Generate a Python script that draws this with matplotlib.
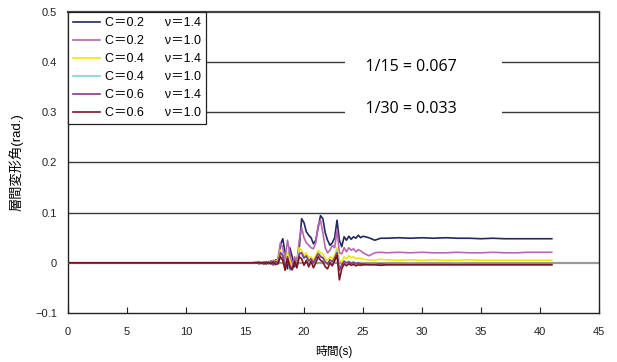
import matplotlib
matplotlib.use("Agg")
import matplotlib.pyplot as plt

plt.rcParams["font.family"] = ["Liberation Sans", "Noto Sans CJK JP", "DejaVu Sans"]

# time axis (s)
time_s = [0, 15.6,
          16.0, 16.2, 16.4, 16.6, 16.8, 17.0, 17.2, 17.4, 17.6, 17.8,
          18.0, 18.2, 18.4, 18.6, 18.8, 19.0, 19.2, 19.4, 19.6, 19.8,
          20.0, 20.2, 20.4, 20.6, 20.8, 21.0, 21.2, 21.4, 21.6, 21.8,
          22.0, 22.2, 22.4, 22.6, 22.8, 23.0, 23.2, 23.4, 23.6, 23.8,
          24.0, 24.2, 24.4, 24.6, 24.8, 25.0,
          25.5, 26.0, 26.5, 27, 28, 29, 30, 31, 32, 33, 34, 35, 36, 37, 38, 39, 40, 41]

# story drift angle (rad.)
c02_n14 = [0, 0,
           0.001, -0.002, 0.001, -0.003, 0.002, -0.002, 0.004, -0.004, 0.006, 0.002,
           0.035, 0.048, 0.020, -0.012, 0.030, 0.012, -0.008, 0.005, 0.030, 0.088,
           0.080, 0.062, 0.055, 0.050, 0.038, 0.045, 0.070, 0.094, 0.088, 0.060,
           0.045, 0.035, 0.040, 0.050, 0.085, 0.045, 0.032, 0.052, 0.045, 0.053,
           0.047, 0.052, 0.049, 0.055, 0.050, 0.053,
           0.050, 0.045, 0.049, 0.049, 0.050, 0.049, 0.050, 0.049, 0.050, 0.049, 0.049, 0.048, 0.049, 0.048, 0.048, 0.048, 0.048, 0.048]
c02_n10 = [0, 0,
           0.000, 0.002, -0.002, 0.002, -0.003, 0.003, -0.003, 0.005, -0.004, 0.010,
           0.040, 0.030, 0.005, 0.045, 0.020, -0.008, 0.012, 0.000, 0.045, 0.070,
           0.050, 0.040, 0.035, 0.030, 0.028, 0.040, 0.075, 0.085, 0.060, 0.030,
           0.020, 0.025, 0.035, 0.030, 0.065, 0.020, 0.018, 0.030, 0.022, 0.030,
           0.025, 0.028, 0.022, 0.026, 0.024, 0.020,
           0.014, 0.020, 0.021, 0.020, 0.021, 0.020, 0.021, 0.020, 0.020, 0.021, 0.020, 0.020, 0.021, 0.020, 0.020, 0.021, 0.021, 0.021]
c04_n14 = [0, 0,
           0.000, -0.001, 0.002, -0.002, 0.001, -0.002, 0.003, -0.003, 0.004, 0.003,
           0.025, 0.010, -0.008, 0.020, 0.005, -0.010, 0.003, -0.005, 0.030, 0.025,
           0.015, 0.020, 0.010, 0.012, 0.005, 0.015, 0.025, 0.020, 0.018, 0.008,
           0.005, 0.012, 0.008, 0.015, 0.030, 0.005, 0.002, 0.012, 0.008, 0.014,
           0.010, 0.012, 0.008, 0.010, 0.009, 0.007,
           0.006, 0.005, 0.007, 0.006, 0.005, 0.006, 0.005, 0.006, 0.005, 0.005, 0.006, 0.005, 0.005, 0.005, 0.005, 0.005, 0.005, 0.005]
c04_n10 = [0, 0,
           0.000, 0.001, -0.002, 0.002, -0.002, 0.002, -0.003, 0.002, -0.003, 0.002,
           0.015, 0.020, -0.012, 0.010, -0.015, -0.010, 0.000, -0.008, 0.022, 0.018,
           0.008, 0.012, 0.002, 0.006, -0.002, 0.008, 0.020, 0.015, 0.010, 0.000,
           -0.004, 0.004, 0.000, 0.008, 0.025, -0.010, -0.005, 0.004, -0.002, 0.003,
           0.000, 0.002, -0.002, 0.000, -0.003, -0.001,
           -0.003, -0.002, -0.001, -0.002, -0.002, -0.001, -0.002, -0.002, -0.002, -0.001, -0.002, -0.002, -0.002, -0.002, -0.002, -0.002, -0.002, -0.002]
c06_n14 = [0, 0,
           0.000, -0.001, 0.001, -0.002, 0.002, -0.001, 0.002, -0.004, 0.003, 0.000,
           0.020, 0.015, -0.010, 0.012, -0.005, -0.012, 0.005, -0.006, 0.018, 0.020,
           0.010, 0.014, 0.004, 0.008, 0.000, 0.010, 0.018, 0.012, 0.010, 0.002,
           -0.002, 0.006, 0.002, 0.010, 0.020, -0.015, -0.004, 0.003, 0.000, 0.002,
           -0.001, 0.001, -0.002, 0.000, -0.002, -0.002,
           -0.003, -0.003, -0.002, -0.003, -0.003, -0.003, -0.003, -0.003, -0.003, -0.003, -0.003, -0.003, -0.003, -0.003, -0.003, -0.003, -0.003, -0.003]
c06_n10 = [0, 0,
           0.000, 0.001, -0.001, 0.001, -0.002, 0.001, -0.002, 0.002, -0.003, -0.002,
           0.012, 0.005, -0.015, 0.008, -0.010, -0.014, 0.002, -0.010, 0.012, 0.008,
           -0.005, 0.005, -0.008, 0.003, -0.010, 0.000, 0.012, 0.005, 0.002, -0.008,
           -0.012, 0.000, -0.006, 0.004, 0.015, -0.034, -0.012, -0.002, -0.006, -0.002,
           -0.005, -0.003, -0.006, -0.004, -0.005, -0.004,
           -0.004, -0.004, -0.005, -0.004, -0.004, -0.004, -0.004, -0.004, -0.004, -0.004, -0.004, -0.004, -0.004, -0.004, -0.004, -0.004, -0.004, -0.004]

series = [
    ("C＝0.2      ν＝1.4", c02_n14, "#23285e"),
    ("C＝0.2      ν＝1.0", c02_n10, "#b865b8"),
    ("C＝0.4      ν＝1.4", c04_n14, "#f2e600"),
    ("C＝0.4      ν＝1.0", c04_n10, "#7fd3d8"),
    ("C＝0.6      ν＝1.4", c06_n14, "#863c8c"),
    ("C＝0.6      ν＝1.0", c06_n10, "#7d1520"),
]

x_ticks = [0, 5, 10, 15, 20, 25, 30, 35, 40, 45]
y_ticks = [-0.1, 0, 0.1, 0.2, 0.3, 0.4, 0.5]
y_tick_labels = ["−0.1", "0", "0.1", "0.2", "0.3", "0.4", "0.5"]

fig = plt.figure(figsize=(6.17, 3.62), dpi=100)
ax = fig.add_axes([0.1102, 0.1354, 0.8606, 0.8315])

for label, values, color in series:
    ax.plot(time_s, values, color=color, linewidth=1.2, label=label, zorder=3)

ax.set_xlim(0, 45)
ax.set_ylim(-0.1, 0.5)
ax.set_xticks(x_ticks)
ax.set_yticks(y_ticks)
ax.set_yticklabels(y_tick_labels)
ax.tick_params(axis="x", direction="in", length=4, pad=10, labelsize=8, colors="#222222")
ax.tick_params(axis="y", direction="in", length=0, pad=8, labelsize=8, colors="#222222")

for y in [0.1, 0.2, 0.3, 0.4]:
    ax.axhline(y, color="#3a3a3a", linewidth=1.0, zorder=1)
ax.axhline(0, color="#9a9a9a", linewidth=1.6, zorder=1)

for side in ["left", "bottom", "right"]:
    ax.spines[side].set_color("#222222")
    ax.spines[side].set_linewidth(1.0)
ax.spines["top"].set_color("#444444")
ax.spines["top"].set_linewidth(1.6)

box = dict(facecolor="white", edgecolor="none", pad=3)
ax.text(30.1, 0.39, "    1/15 = 0.067          ", ha="center", va="center",
        fontsize=11.5, family="Open Sans", bbox=box, zorder=2)
ax.text(30.1, 0.307, "    1/30 = 0.033          ", ha="center", va="center",
        fontsize=11.5, family="Open Sans", bbox=box, zorder=2)

ax.set_xlabel("時間(s)", fontsize=8.5, labelpad=6)
ax.set_ylabel("層間変形角(rad.)", fontsize=9.5, labelpad=8)

leg = ax.legend(loc="upper left", bbox_to_anchor=(0, 1), borderaxespad=0,
                fontsize=9, handlelength=2.2, handletextpad=0.35,
                labelspacing=0.48, borderpad=0.4, fancybox=False,
                framealpha=1, edgecolor="#222222")
leg.get_frame().set_linewidth(0.9)
leg.set_zorder(5)

fig.savefig("out.png", dpi=100)
